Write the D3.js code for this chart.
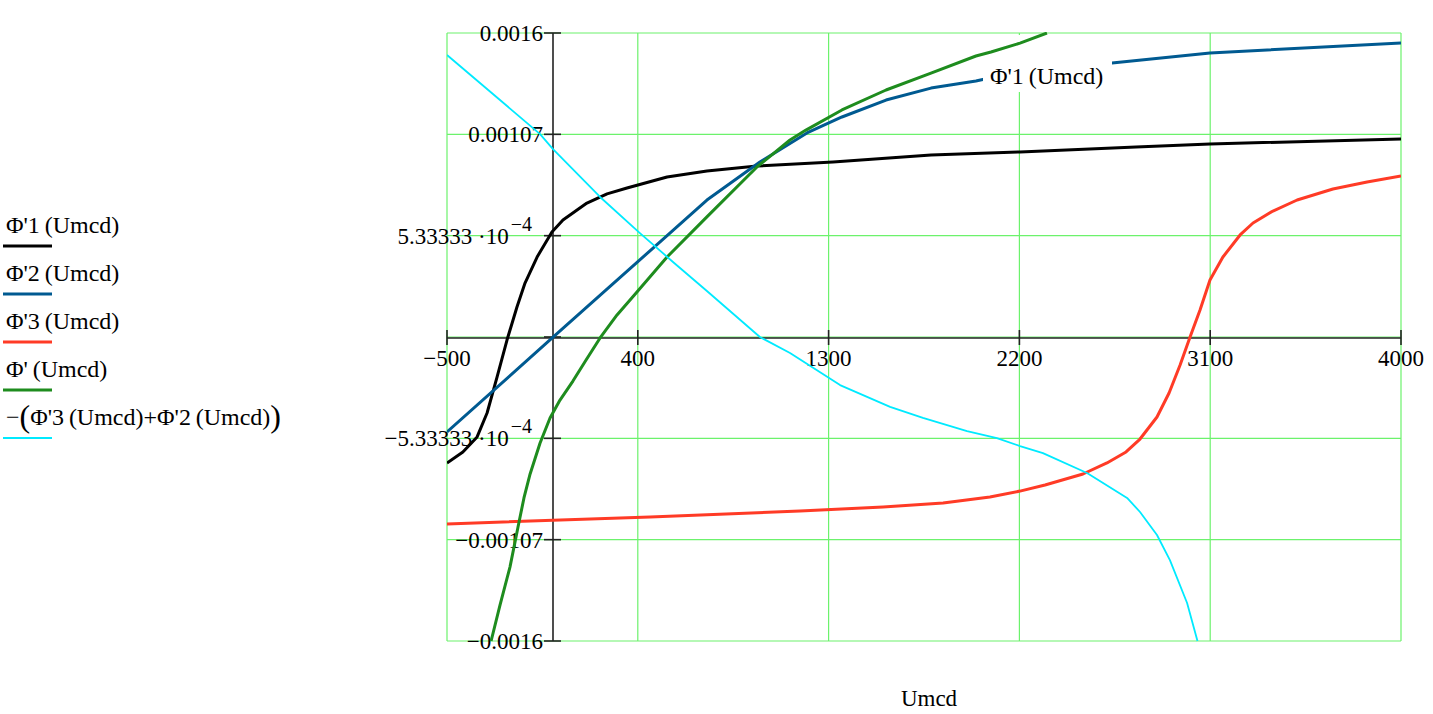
<!DOCTYPE html>
<html>
<head>
<meta charset="utf-8">
<script src="https://cdn.jsdelivr.net/npm/d3@7"></script>
<style>
  body { margin: 0; background: #fff; }
  svg { display: block; }
  text { font-family: "Liberation Serif", "Times New Roman", serif; fill: #000; }
</style>
</head>
<body>
<svg id="chart" width="1433" height="714"></svg>
<script>
// tick values and labels
var xTicks = [-500, 400, 1300, 2200, 3100, 4000];
var xTickLabels = ["\u2212500", "400", "1300", "2200", "3100", "4000"];
var yTicks = [-0.0016, -0.00106667, -0.000533333, 0, 0.000533333, 0.00106667, 0.0016];
var yTickLabels = [
  ["\u22120.0016", null], ["\u22120.00107", null], ["\u22125.33333 \u00b710", "\u22124"],
  null, ["5.33333 \u00b710", "\u22124"], ["0.00107", null], ["0.0016", null]
];

// series, [Umcd, value]
var phi1 = [[-500,-6.63e-4],[-425,-6.05e-4],[-358,-5.26e-4],[-311,-4.0e-4],[-264,-2.11e-4],
  [-217,-1.6e-5],[-170,1.58e-4],[-132,2.84e-4],[-75,4.21e-4],[-5,5.53e-4],[47,6.16e-4],
  [160,7.05e-4],[255,7.53e-4],[349,7.84e-4],[538,8.42e-4],[726,8.74e-4],[962,9.0e-4],
  [1321,9.21e-4],[1783,9.58e-4],[2203,9.74e-4],[2750,1.0e-3],[3099,1.016e-3],[4000,1.042e-3]];
var phi2 = [[-500,-5.0e-4],[-9,-1.0e-5],[472,4.68e-4],[726,7.21e-4],
  [976,9.21e-4],[1198,1.074e-3],[1363,1.158e-3],[1571,1.247e-3],[1783,1.31e-3],[1995,1.347e-3],
  [2038,1.358e-3],[2637,1.442e-3],[3099,1.495e-3],[4000,1.547e-3]];
var phi3 = [[-500,-9.84e-4],[458,-9.47e-4],[1165,-9.16e-4],[1557,-8.95e-4],[1840,-8.74e-4],
  [2061,-8.42e-4],[2203,-8.11e-4],[2321,-7.79e-4],[2500,-7.21e-4],[2613,-6.63e-4],[2703,-6.05e-4],
  [2769,-5.37e-4],[2849,-4.21e-4],[2906,-2.95e-4],[2958,-1.47e-4],[3005,0],[3052,1.42e-4],
  [3099,3.0e-4],[3160,4.21e-4],[3241,5.37e-4],[3302,6.0e-4],[3396,6.63e-4],[3510,7.21e-4],
  [3679,7.79e-4],[3840,8.16e-4],[4000,8.47e-4]];
var phiSum = [[-292,-1.6e-3],[-250,-1.411e-3],[-203,-1.211e-3],[-165,-1.0e-3],[-137,-8.47e-4],
  [-108,-7.21e-4],[-61,-5.58e-4],[-14,-4.26e-4],[33,-3.32e-4],[94,-2.32e-4],[156,-1.21e-4],
  [222,-5e-6],[302,1.16e-4],[392,2.32e-4],[538,4.21e-4],[726,6.32e-4],[962,8.95e-4],
  [1118,1.037e-3],[1193,1.089e-3],[1363,1.195e-3],[1571,1.3e-3],[1783,1.389e-3],[1995,1.479e-3],
  [2066,1.5e-3],[2203,1.547e-3],[2330,1.6e-3]];
var negSum = [[-500,1.484e-3],[-61,1.068e-3],[0,9.89e-4],[222,7.37e-4],[410,5.47e-4],[566,3.95e-4],
  [726,2.42e-4],[976,0],[1118,-8.4e-5],[1354,-2.53e-4],[1590,-3.68e-4],[1745,-4.26e-4],
  [1953,-4.95e-4],[2094,-5.32e-4],[2203,-5.74e-4],[2311,-6.11e-4],[2519,-7.16e-4],[2708,-8.47e-4],
  [2769,-9.21e-4],[2849,-1.042e-3],[2910,-1.174e-3],[2991,-1.4e-3],[3040,-1.6e-3]];

var legendNames = ["\u03a6'1\u2009(Umcd)", "\u03a6'2\u2009(Umcd)", "\u03a6'3\u2009(Umcd)", "\u03a6'\u2009(Umcd)", null];
var legendColors = ["#000", "#005a91", "#ff3b26", "#1e8c1e", "#00eaff"];

(function() {
  var svg = d3.select("#chart");
  var pl = 447, pr = 1401, pt = 33, pb = 641;
  var x = d3.scaleLinear().domain([-500, 4000]).range([pl, pr]);
  var y = d3.scaleLinear().domain([-0.0016, 0.0016]).range([pb, pt]);

  svg.append("defs").append("clipPath").attr("id", "plotclip")
    .append("rect").attr("x", pl).attr("y", pt - 1)
    .attr("width", pr - pl).attr("height", pb - pt + 2);

  // grid
  var grid = svg.append("g").attr("stroke", "#6cf26c").attr("stroke-width", 1.2);
  grid.selectAll("line.gx").data(xTicks).enter().append("line")
    .attr("x1", function(d) { return x(d); }).attr("x2", function(d) { return x(d); })
    .attr("y1", pt).attr("y2", pb);
  grid.selectAll("line.gy").data(yTicks).enter().append("line")
    .attr("y1", function(d) { return y(d); }).attr("y2", function(d) { return y(d); })
    .attr("x1", pl).attr("x2", pr);

  // axes through zero
  var axes = svg.append("g").attr("stroke", "#222").attr("stroke-width", 1.6);
  axes.append("line").attr("x1", pl).attr("x2", pr).attr("y1", y(0) + 1).attr("y2", y(0) + 1);
  axes.append("line").attr("x1", x(0)).attr("x2", x(0)).attr("y1", pt).attr("y2", pb);
  axes.selectAll("line.tx").data(xTicks).enter().append("line")
    .attr("x1", function(d) { return x(d); }).attr("x2", function(d) { return x(d); })
    .attr("y1", y(0) - 7).attr("y2", y(0) + 8);
  axes.selectAll("line.ty").data(yTicks).enter().append("line")
    .attr("y1", function(d) { return y(d); }).attr("y2", function(d) { return y(d); })
    .attr("x1", x(0) - 9).attr("x2", x(0) + 8);

  // tick labels
  svg.selectAll("text.xl").data(xTicks).enter().append("text")
    .attr("x", function(d) { return x(d); }).attr("y", y(0) + 29)
    .attr("text-anchor", "middle").attr("font-size", 23)
    .text(function(d, i) { return xTickLabels[i]; });

  yTicks.forEach(function(v, i) {
    var lab = yTickLabels[i];
    if (!lab) return;
    var t = svg.append("text").attr("y", y(v) + 8).attr("font-size", 23)
      .attr("text-anchor", "end");
    if (lab[1]) {
      t.attr("x", x(0) - 21);
      t.append("tspan").text(lab[0]);
      t.append("tspan").attr("font-size", 20).attr("dx", 2).attr("dy", -13).text(lab[1]);
    } else {
      t.attr("x", x(0) - 10).text(lab[0]);
    }
  });

  // curves (polylines, as the original plot draws them)
  var line = d3.line()
    .x(function(d) { return x(d[0]); })
    .y(function(d) { return y(d[1]); });
  var under = svg.append("g").attr("clip-path", "url(#plotclip)").attr("fill", "none")
    .attr("stroke-linejoin", "round");
  under.append("path").datum(phi1).attr("d", line).attr("stroke", legendColors[0]).attr("stroke-width", 3);
  under.append("path").datum(phi2).attr("d", line).attr("stroke", legendColors[1]).attr("stroke-width", 3);

  // inline trace label covers the blue trace
  svg.append("rect").attr("x", 983).attr("y", 35).attr("width", 129).attr("height", 57).attr("fill", "#fff");
  svg.append("text").attr("x", 990).attr("y", 84).attr("font-size", 24).text(legendNames[0]);

  var over = svg.append("g").attr("clip-path", "url(#plotclip)").attr("fill", "none")
    .attr("stroke-linejoin", "round");
  over.append("path").datum(phi3).attr("d", line).attr("stroke", legendColors[2]).attr("stroke-width", 3);
  over.append("path").datum(phiSum).attr("d", line).attr("stroke", legendColors[3]).attr("stroke-width", 3);
  over.append("path").datum(negSum).attr("d", line).attr("stroke", legendColors[4]).attr("stroke-width", 1.8);

  // legend
  var lg = svg.append("g");
  legendNames.forEach(function(name, i) {
    var base = 233 + i * 48;
    var t = lg.append("text").attr("x", 6).attr("y", base).attr("font-size", 24);
    if (name) {
      t.text(name);
    } else {
      t.append("tspan").text("\u2212");
      t.append("tspan").attr("font-size", 32).attr("dy", 2).text("(");
      t.append("tspan").attr("font-size", 24).attr("dy", -2).text("\u03a6'3\u2009(Umcd)+\u03a6'2\u2009(Umcd)");
      t.append("tspan").attr("font-size", 32).attr("dy", 2).text(")");
    }
    lg.append("line").attr("x1", 3).attr("x2", 52).attr("y1", base + 13).attr("y2", base + 13)
      .attr("stroke", legendColors[i]).attr("stroke-width", i === 4 ? 2 : 3);
  });

  // axis title
  svg.append("text").attr("x", 929).attr("y", 706).attr("text-anchor", "middle")
    .attr("font-size", 23).text("Umcd");
})();
</script>
</body>
</html>
